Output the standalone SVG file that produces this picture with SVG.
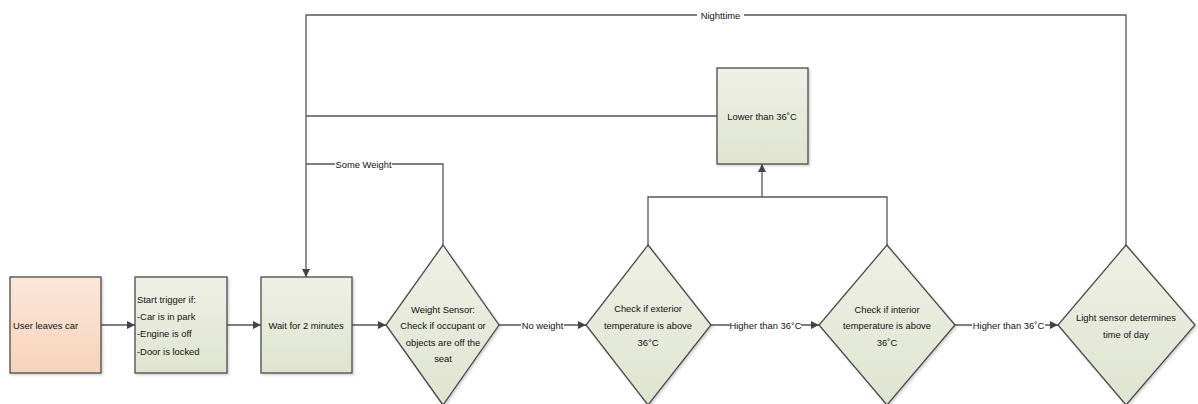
<svg xmlns="http://www.w3.org/2000/svg" width="1198" height="404" viewBox="0 0 1198 404">
<style>
.n{stroke:#4a4a4a;stroke-width:1.3;filter:url(#sh)}
.g{fill:url(#gg)}
.o{fill:url(#go)}
.t{font-family:"Liberation Sans",Arial,sans-serif;font-size:9.4px;fill:#111}
.c{text-anchor:middle}
.e{fill:none;stroke:#555;stroke-width:1.3}
.lb{fill:#fff}
</style>
<defs>
<linearGradient id="gg" x1="0" y1="0" x2="0" y2="1"><stop offset="0" stop-color="#eef0e6"/><stop offset="1" stop-color="#dfe4cf"/></linearGradient>
<linearGradient id="go" x1="0" y1="0" x2="0" y2="1"><stop offset="0" stop-color="#fbe7da"/><stop offset="1" stop-color="#f6d3bb"/></linearGradient>
<filter id="sh" x="-10%" y="-10%" width="130%" height="130%"><feDropShadow dx="1.5" dy="1.5" stdDeviation="1" flood-color="#000" flood-opacity="0.18"/></filter>
<marker id="ar" viewBox="0 0 10 10" refX="10" refY="5" markerWidth="8" markerHeight="8" markerUnits="userSpaceOnUse" orient="auto"><path d="M0,0 L10,5 L0,10 z" fill="#444"/></marker>
</defs>
<g id="connectors">
<path class="e" d="M101,325 H135" marker-end="url(#ar)"/>
<path class="e" d="M227,325 H261" marker-end="url(#ar)"/>
<path class="e" d="M352,325 H386" marker-end="url(#ar)"/>
<path class="e" d="M499,325 H586" marker-end="url(#ar)"/>
<path class="e" d="M711,325 H819" marker-end="url(#ar)"/>
<path class="e" d="M955,325 H1058" marker-end="url(#ar)"/>
<path class="e" d="M1126,245 V15 H306 V277" marker-end="url(#ar)"/>
<path class="e" d="M717,116 H306"/>
<path class="e" d="M443,245 V164 H306"/>
<path class="e" d="M648,245 V197 H887 V245"/>
<path class="e" d="M762,197 V164" marker-end="url(#ar)"/>
<rect class="lb" x="521" y="319" width="43" height="12"/>
<text class="t c" x="542.5" y="328.5">No weight</text>
<rect class="lb" x="730" y="319" width="71" height="12"/>
<text class="t c" x="765.5" y="328.5">Higher than 36°C</text>
<rect class="lb" x="972" y="319" width="73" height="12"/>
<text class="t c" x="1008.5" y="328.5">Higher than 36˚C</text>
<rect class="lb" x="697" y="9" width="47" height="12"/>
<text class="t c" x="720.5" y="18.5">Nighttime</text>
<rect class="lb" x="335" y="158" width="57" height="12"/>
<text class="t c" x="363.5" y="167.5">Some Weight</text>
</g>
<g id="user-leaves-car">
<rect class="n o" x="10" y="277" width="91" height="96"/>
<text class="t" x="13" y="328.5">User leaves car</text>
</g>
<g id="start-trigger">
<rect class="n g" x="135" y="277" width="92" height="96"/>
<text class="t" x="137" y="302.5">Start trigger if:</text>
<text class="t" x="137" y="320">-Car is in park</text>
<text class="t" x="137" y="337">-Engine is off</text>
<text class="t" x="137" y="354.5">-Door is locked</text>
</g>
<g id="wait">
<rect class="n g" x="261" y="277" width="91" height="96"/>
<text class="t c" x="306" y="328.5">Wait for 2 minutes</text>
</g>
<g id="weight-sensor">
<path class="n g" d="M443,245 L499,325 L443,405 L386,325 z"/>
<text class="t c" x="443" y="312.5">Weight Sensor:</text>
<text class="t c" x="443" y="328.5">Check if occupant or</text>
<text class="t c" x="443" y="345.5">objects are off the</text>
<text class="t c" x="443" y="361.5">seat</text>
</g>
<g id="exterior-check">
<path class="n g" d="M648,245 L711,325 L648,405 L586,325 z"/>
<text class="t c" x="648" y="311.5">Check if exterior</text>
<text class="t c" x="648" y="328.5">temperature is above</text>
<text class="t c" x="648" y="345.5">36°C</text>
</g>
<g id="interior-check">
<path class="n g" d="M887,245 L955,325 L887,405 L819,325 z"/>
<text class="t c" x="887" y="312.5">Check if interior</text>
<text class="t c" x="887" y="328.5">temperature is above</text>
<text class="t c" x="887" y="345.5">36˚C</text>
</g>
<g id="light-sensor">
<path class="n g" d="M1126,245 L1195,325 L1126,405 L1058,325 z"/>
<text class="t c" x="1126" y="320.5">Light sensor determines</text>
<text class="t c" x="1126" y="337.5">time of day</text>
</g>
<g id="lower-than">
<rect class="n g" x="717" y="68" width="91" height="96"/>
<text class="t c" x="762" y="119.5">Lower than 36˚C</text>
</g>
</svg>
